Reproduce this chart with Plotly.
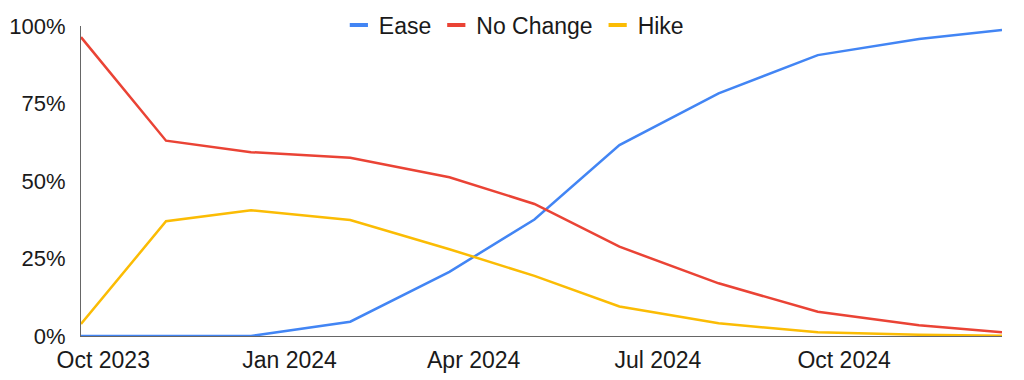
import plotly.graph_objects as go

# FOMC meeting dates
dates = ["2023-09-20", "2023-11-01", "2023-12-13", "2024-01-31", "2024-03-20",
         "2024-05-01", "2024-06-12", "2024-07-31", "2024-09-18", "2024-11-07", "2024-12-18"]
ease = [0.0, 0.0, 0.0, 0.046, 0.207, 0.376, 0.616, 0.783, 0.906, 0.958, 0.987]
no_change = [0.964, 0.630, 0.593, 0.575, 0.512, 0.426, 0.288, 0.170, 0.078, 0.035, 0.012]
hike = [0.039, 0.370, 0.406, 0.374, 0.280, 0.194, 0.095, 0.041, 0.012, 0.004, 0.001]

series_names = ["Ease", "No Change", "Hike"]
series_values = [ease, no_change, hike]
colors = ["#4285F4", "#EA4335", "#FBBC04"]

y_ticks = [0, 0.25, 0.5, 0.75, 1.0]
y_tick_labels = ["0%", "25%", "50%", "75%", "100%"]

FONT = "Liberation Sans, Arial, Helvetica, sans-serif"

fig = go.Figure()
for name, vals, col in zip(series_names, series_values, colors):
    fig.add_trace(go.Scatter(x=dates, y=vals, mode="lines", name=name,
                             line=dict(color=col, width=2.5), showlegend=False,
                             hoverinfo="skip"))
# legend entries (short thick dash swatches)
for name, col in zip(series_names, colors):
    fig.add_trace(go.Scatter(x=[None], y=[None], mode="markers", name=name,
                             marker=dict(symbol="line-ew", size=13,
                                         line=dict(color=col, width=4)),
                             showlegend=True))

fig.update_layout(
    width=1024, height=380,
    margin=dict(l=73, r=30, t=18, b=52, autoexpand=False),
    paper_bgcolor="white", plot_bgcolor="white",
    font=dict(family=FONT, size=23, color="#1a1a1a"),
    legend=dict(orientation="h", xref="container", x=0.494, xanchor="center",
                yref="container", y=1 - 17 / 380, yanchor="middle",
                font=dict(size=23), itemwidth=30, bgcolor="rgba(0,0,0,0)",
                tracegroupgap=0),
    xaxis=dict(type="date", range=["2023-09-20", "2024-12-18"],
               tick0="2023-10-01", dtick="M3", tickformat="%b %Y",
               showgrid=False, zeroline=False, showline=True,
               linecolor="#666666", linewidth=1, automargin=False,
               ticks="outside", ticklen=3, tickcolor="rgba(0,0,0,0)",
               tickfont=dict(size=23)),
    yaxis=dict(range=[0, 1], tickvals=y_ticks, ticktext=y_tick_labels,
               showgrid=False, zeroline=False, showline=True,
               linecolor="#666666", linewidth=1, automargin=False,
               ticks="outside", ticklen=10, tickcolor="rgba(0,0,0,0)",
               tickfont=dict(size=22)),
)

fig.write_html("out.html")
